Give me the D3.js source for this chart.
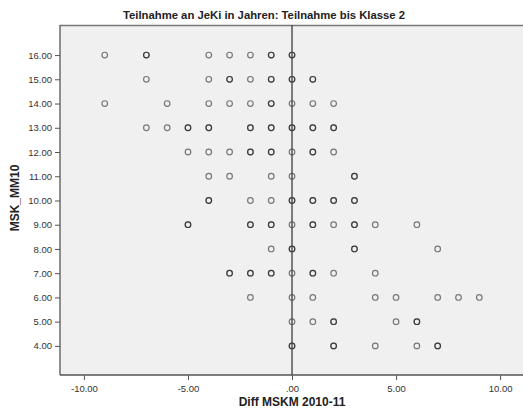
<!DOCTYPE html>
<html>
<head>
<meta charset="utf-8">
<script src="https://cdn.jsdelivr.net/npm/d3@7"></script>
<style>
  body { margin: 0; background: #fff; }
  text { font-family: "Liberation Sans", Arial, sans-serif; }
</style>
</head>
<body>
<div id="chart"></div>
<script>
var width = 523;
var height = 414;

// one array per MSK_MM10 row: Diff MSKM values found at that row
var rowValues = [16, 15, 14, 13, 12, 11, 10, 9, 8, 7, 6, 5, 4];
var rowDiffs = [
  [-9, -7, -4, -3, -2, -1, 0],
  [-7, -4, -3, -2, -1, 0, 1],
  [-9, -6, -4, -3, -2, -1, 0, 1, 2],
  [-7, -6, -5, -4, -2, -1, 0, 1, 2],
  [-5, -4, -3, -2, -1, 0, 1, 2],
  [-4, -3, -1, 0, 3],
  [-4, -2, -1, 0, 1, 2, 3],
  [-5, -2, -1, 0, 1, 2, 3, 4, 6],
  [-1, 0, 3, 7],
  [-3, -2, -1, 0, 1, 2, 4],
  [-2, 0, 1, 4, 5, 7, 8, 9],
  [0, 1, 2, 5, 6],
  [0, 2, 4, 6, 7]
];
// number of overlapping cases per point (darker rings)
var rowCounts = [
  [1, 2, 1, 1, 1, 2, 2],
  [1, 1, 2, 1, 2, 2, 2],
  [1, 1, 1, 1, 1, 2, 1, 1, 1],
  [1, 1, 2, 2, 2, 2, 2, 2, 2],
  [1, 1, 1, 2, 2, 1, 2, 1],
  [1, 1, 1, 1, 2],
  [2, 1, 1, 2, 2, 2, 2],
  [2, 2, 2, 1, 2, 1, 2, 1, 1],
  [1, 2, 2, 1],
  [2, 2, 2, 1, 2, 1, 1],
  [1, 1, 1, 1, 1, 1, 1, 1],
  [1, 1, 2, 1, 2],
  [2, 2, 1, 1, 2]
];
var xTicks = [-10, -5, 0, 5, 10];
var yTicks = [4, 5, 6, 7, 8, 9, 10, 11, 12, 13, 14, 15, 16];

var points = [];
for (var i = 0; i < rowValues.length; ++i) {
  for (var j = 0; j < rowDiffs[i].length; ++j) {
    for (var k = 0; k < rowCounts[i][j]; ++k) {
      points.push({ x: rowDiffs[i][j], y: rowValues[i] });
    }
  }
}

var plotLeft = 60, plotRight = 523, plotTop = 25, plotBottom = 375;

var xScale = d3.scaleLinear().domain([-11.15, 11.1]).range([plotLeft, plotRight]);
var yScale = d3.scaleLinear().domain([2.8, 17.24]).range([plotBottom, plotTop]);

function fmt(d) {
  var s = d3.format(".2f")(Math.abs(d));
  if (s.indexOf("0.") === 0) s = s.slice(1);
  return (d < 0 ? "-" : "") + s;
}

var svg = d3.select("#chart").append("svg")
  .attr("width", width)
  .attr("height", height);

// plot background
svg.append("rect")
  .attr("x", plotLeft).attr("y", plotTop)
  .attr("width", plotRight - plotLeft).attr("height", plotBottom - plotTop)
  .attr("fill", "#f0f0f0");

svg.append("line")
  .attr("x1", plotLeft).attr("x2", plotRight)
  .attr("y1", plotTop + 0.5).attr("y2", plotTop + 0.5)
  .attr("stroke", "#777").attr("stroke-width", 1.5);

// points
svg.append("g")
  .selectAll("circle")
  .data(points)
  .enter()
  .append("circle")
  .attr("cx", function(d) { return xScale(d.x); })
  .attr("cy", function(d) { return yScale(d.y); })
  .attr("r", 2.8)
  .attr("fill", "none")
  .attr("stroke", "#000")
  .attr("stroke-opacity", 0.5)
  .attr("stroke-width", 1.2);

// reference line at 0
svg.append("line")
  .attr("x1", xScale(0)).attr("x2", xScale(0))
  .attr("y1", plotTop).attr("y2", plotBottom)
  .attr("stroke", "#444").attr("stroke-opacity", 0.85)
  .attr("stroke-width", 1.6);

// axes
var xAxis = d3.axisBottom(xScale).tickValues(xTicks)
  .tickFormat(fmt)
  .tickSize(5).tickSizeOuter(0);
var yAxis = d3.axisLeft(yScale).tickValues(yTicks)
  .tickFormat(fmt)
  .tickSize(5).tickSizeOuter(0);

var gx = svg.append("g")
  .attr("transform", "translate(0," + plotBottom + ")")
  .call(xAxis);
var gy = svg.append("g")
  .attr("transform", "translate(" + plotLeft + ",0)")
  .call(yAxis);

[gx, gy].forEach(function(g) {
  g.select(".domain").attr("stroke", "#555").attr("stroke-width", 1.3);
  g.selectAll(".tick line").attr("stroke", "#555");
  g.selectAll(".tick text")
    .attr("fill", "#333")
    .style("font-size", "9.5px")
    .style("font-family", "'Liberation Sans', Arial, sans-serif");
});
gx.select(".domain").attr("d", "M" + plotLeft + ",0H" + plotRight);
gy.select(".domain").attr("d", "M0," + plotTop + "V" + plotBottom);
gx.selectAll(".tick text").attr("dy", "0.9em");

// title and labels
svg.append("text")
  .attr("x", 264).attr("y", 19)
  .style("text-anchor", "middle")
  .style("font-size", "11.3px").style("font-weight", "bold")
  .attr("fill", "#222")
  .text("Teilnahme an JeKi in Jahren: Teilnahme bis Klasse 2");

svg.append("text")
  .attr("x", 292).attr("y", 406)
  .style("text-anchor", "middle")
  .style("font-size", "12px").style("font-weight", "bold")
  .attr("fill", "#222")
  .text("Diff MSKM 2010-11");

svg.append("text")
  .attr("transform", "translate(19,198) rotate(-90)")
  .style("text-anchor", "middle")
  .style("font-size", "12px").style("font-weight", "bold")
  .attr("fill", "#222")
  .text("MSK_MM10");
</script>
</body>
</html>
